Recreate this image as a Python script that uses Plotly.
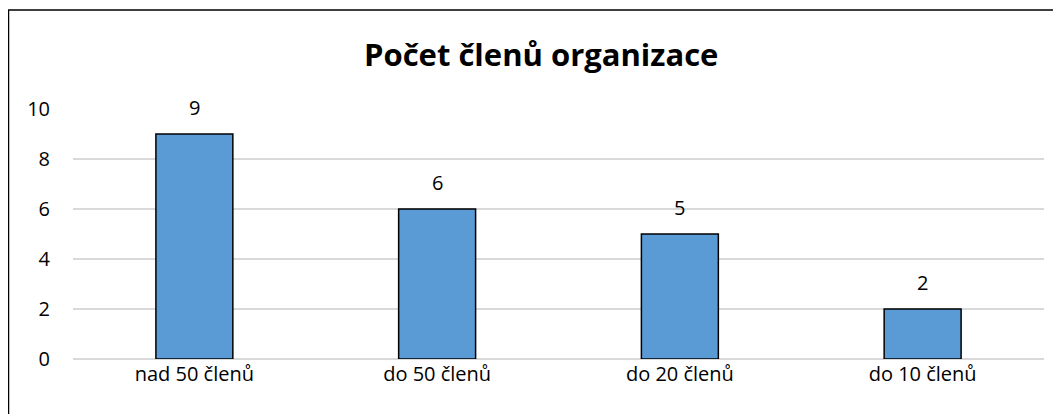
import plotly.graph_objects as go

categories = ["nad 50 členů", "do 50 členů", "do 20 členů", "do 10 členů"]
values = [9, 6, 5, 2]
y_ticks = [0, 2, 4, 6, 8, 10]
title_text = "Počet členů organizace"

# the page body has an 8px margin, so screen pixel = figure pixel + 8
OFF = 8
W, H = 1061 - OFF, 414 - OFF
L = 73 - OFF
R = W - (1044 - OFF)
T = 109 - OFF
B = H - (359 - OFF)
pw = W - L - R
ph = H - T - B

def px_x(sx):
    return (sx - OFF - L) / pw

def px_y(sy):
    return (H - B - (sy - OFF)) / ph

font_family = "'Open Sans', Lato, sans-serif"
fs = 20

fig = go.Figure()
fig.add_trace(go.Bar(
    x=categories, y=values,
    marker=dict(color="#5B9BD5", line=dict(color="#000000", width=1.5)),
    width=0.317,
    hoverinfo="x+y",
))

for c, v in zip(categories, values):
    fig.add_annotation(x=c, y=v, text=str(v), showarrow=False,
                       yanchor="bottom", yshift=11,
                       font=dict(family=font_family, size=fs, color="#000000"))

fig.add_annotation(x=px_x(541), y=px_y(54), xref="paper", yref="paper",
                   text="<b>" + title_text + "</b>", showarrow=False,
                   xanchor="center", yanchor="middle",
                   font=dict(family=font_family, size=31, color="#000000"))

fig.add_shape(type="rect", xref="paper", yref="paper",
              x0=px_x(8.5), x1=px_x(1080), y0=px_y(10), y1=px_y(430),
              line=dict(color="#000000", width=1.5), fillcolor="rgba(0,0,0,0)",
              layer="below")

fig.update_layout(
    width=W, height=H,
    margin=dict(l=L, r=R, t=T, b=B, pad=0),
    paper_bgcolor="white", plot_bgcolor="white",
    showlegend=False,
    font=dict(family=font_family, size=fs, color="#000000"),
    xaxis=dict(showgrid=False, showline=False, ticks="", tickfont=dict(size=fs),
               ticklabelstandoff=1),
    yaxis=dict(range=[0, 10], tickvals=y_ticks, showgrid=True, gridcolor="#D9D9D9",
               gridwidth=1.5, zeroline=True, zerolinecolor="#D9D9D9", zerolinewidth=1.5,
               showline=False, ticks="", tickfont=dict(size=fs), ticklabelstandoff=22),
)

fig.write_html("out.html")
